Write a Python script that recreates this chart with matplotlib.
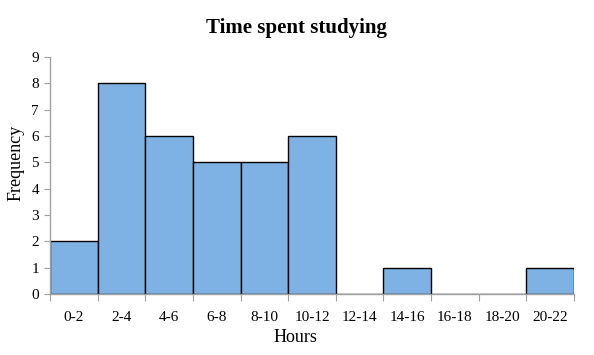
import matplotlib
matplotlib.use("Agg")
import matplotlib.pyplot as plt
import numpy as np

categories = ["0-2", "2-4", "4-6", "6-8", "8-10", "10-12", "12-14", "14-16", "16-18", "18-20", "20-22"]
frequencies = [2, 8, 6, 5, 5, 6, 0, 1, 0, 0, 1]
yticks = list(range(0, 10))

plt.rcParams['font.family'] = ['Liberation Serif', 'DejaVu Serif']

fig = plt.figure(figsize=(5.94, 3.55), dpi=100)
ax = fig.add_axes([50/594, 61/355, 524/594, 237/355])

x = np.arange(len(categories))
ax.bar(x, frequencies, width=1.0, color="#7EB2E4", edgecolor="black", linewidth=1.0, align="center")
ax.set_xlim(-0.5, len(categories) - 0.5)
ax.set_ylim(0, 9)
ax.set_yticks(yticks)
ax.set_yticklabels([str(v) for v in yticks], fontsize=11)

# boundary ticks, category labels centered
ax.set_xticks(np.arange(-0.5, len(categories) + 0.5, 1.0))
ax.set_xticklabels([])
ax.set_xticks(x, minor=True)
ax.set_xticklabels(categories, minor=True, fontsize=11)
ax.tick_params(axis="x", which="minor", length=0, pad=12)
ax.tick_params(axis="x", which="major", length=5, color="#A0A0A0", direction="out")
ax.tick_params(axis="y", length=4, color="#A0A0A0", direction="out", pad=4)

for s in ["top", "right"]:
    ax.spines[s].set_visible(False)
for s in ["left", "bottom"]:
    ax.spines[s].set_color("#A0A0A0")
    ax.spines[s].set_linewidth(1.0)

ax.set_xlabel("Hours", fontsize=13)
ax.xaxis.set_label_coords((295 - 50) / 524, (294 - 329) / 237)
ax.set_ylabel("Frequency", fontsize=13)
ax.yaxis.set_label_coords((25 - 50) / 524, (294 - 163) / 237)
fig.suptitle("Time spent studying", fontsize=15, fontweight="bold", y=1 - 28/355, va="center")

fig.savefig("out.png", dpi=100)
